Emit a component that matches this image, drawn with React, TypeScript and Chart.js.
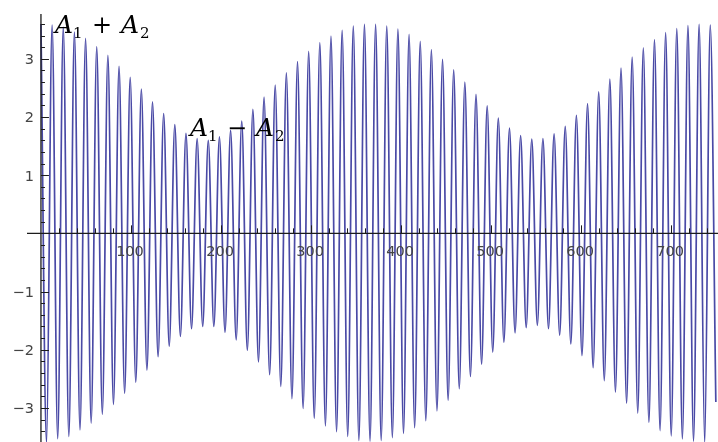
import React, { useEffect, useRef } from "react";
import { Chart, registerables } from "chart.js";

Chart.register(...registerables);

// ---- data ----
// carrier period (x units) between successive positive peaks
const CARRIER_PERIOD = 12.39;
// positive peaks, at x = i * period
const PEAKS = [
  3.6, 3.58, 3.54, 3.46, 3.35, 3.21, 3.06, 2.87, 2.68, 2.48,
  2.26, 2.06, 1.87, 1.72, 1.63, 1.6, 1.66, 1.77, 1.93, 2.13,
  2.34, 2.55, 2.76, 2.95, 3.13, 3.28, 3.39, 3.49, 3.56, 3.59,
  3.59, 3.56, 3.51, 3.42, 3.3, 3.16, 2.99, 2.81, 2.6, 2.39,
  2.19, 1.98, 1.81, 1.68, 1.62, 1.63, 1.71, 1.84, 2.03, 2.23,
  2.43, 2.65, 2.84, 3.03, 3.19, 3.33, 3.45, 3.52, 3.57, 3.59,
  3.58,
];
// negative peaks, at x = (j + 0.5) * period
const TROUGHS = [
  -3.59, -3.53, -3.49, -3.38, -3.26, -3.11, -2.94, -2.75, -2.56, -2.35,
  -2.12, -1.94, -1.77, -1.64, -1.6, -1.6, -1.7, -1.83, -2.01, -2.21,
  -2.43, -2.63, -2.84, -3.01, -3.18, -3.31, -3.41, -3.49, -3.56, -3.57,
  -3.56, -3.51, -3.44, -3.34, -3.22, -3.05, -2.87, -2.67, -2.46, -2.25,
  -2.04, -1.87, -1.71, -1.62, -1.58, -1.64, -1.75, -1.9, -2.1, -2.31,
  -2.53, -2.73, -2.92, -3.09, -3.25, -3.39, -3.48, -3.53, -3.57, -3.59,
  -2.9,
];
const X_TICK_LABELS = [100, 200, 300, 400, 500, 600, 700];
const Y_TICK_LABELS = [-3, -2, -1, 1, 2, 3];
const X_MINOR_STEP = 20;
const Y_MINOR_STEP = 0.2;
const X_RANGE = [-15.5, 752];
const Y_RANGE = [-3.586, 3.77];
// annotation labels: [operator, anchor x, anchor y] in data units
const ENVELOPE_LABELS: [string, number, number][] = [
  ["+", 15.6, 3.44],
  ["\u2212", 165.6, 1.67],
];

const LINE_COLOR = "rgb(74,74,166)";
const AXIS_COLOR = "#1c1c1c";
const TICK_FONT = '14.5px "DejaVu Sans"';
const TICK_COLOR = "#444";

function buildPoints() {
  const pts: { x: number; y: number }[] = [];
  for (let i = 0; i < PEAKS.length; i++) {
    pts.push({ x: i * CARRIER_PERIOD, y: PEAKS[i] });
    if (i < TROUGHS.length) pts.push({ x: (i + 0.5) * CARRIER_PERIOD, y: TROUGHS[i] });
  }
  return pts;
}

const fmt = (v: number) => (v < 0 ? "\u2212" + Math.abs(v) : String(v));

const mmaAxes = {
  id: "mmaAxes",
  afterDatasetsDraw(chart: any) {
    const { ctx } = chart;
    const xs = chart.scales.x;
    const ys = chart.scales.y;
    const x0 = xs.getPixelForValue(0);
    const y0 = ys.getPixelForValue(0);
    ctx.save();
    ctx.strokeStyle = AXIS_COLOR;
    ctx.lineWidth = 1.3;
    ctx.beginPath();
    ctx.moveTo(xs.left, y0);
    ctx.lineTo(xs.right, y0);
    ctx.moveTo(x0, ys.top);
    ctx.lineTo(x0, ys.bottom);
    ctx.stroke();

    // ticks
    ctx.lineWidth = 1;
    ctx.beginPath();
    for (let k = 1; k * X_MINOR_STEP <= xs.max; k++) {
      const v = k * X_MINOR_STEP;
      const px = Math.round(xs.getPixelForValue(v)) + 0.5;
      const len = v % 100 === 0 ? 8 : 5;
      ctx.moveTo(px, y0);
      ctx.lineTo(px, y0 - len);
    }
    for (let k = Math.ceil(ys.min / Y_MINOR_STEP); k * Y_MINOR_STEP <= ys.max; k++) {
      if (k === 0) continue;
      const v = k * Y_MINOR_STEP;
      const py = Math.round(ys.getPixelForValue(v)) + 0.5;
      const len = k % 5 === 0 ? 8 : 4;
      ctx.moveTo(x0, py);
      ctx.lineTo(x0 + len, py);
    }
    ctx.stroke();

    // tick labels
    ctx.fillStyle = TICK_COLOR;
    ctx.font = TICK_FONT;
    ctx.textBaseline = "alphabetic";
    ctx.textAlign = "center";
    X_TICK_LABELS.forEach((v) => {
      ctx.fillText(fmt(v), xs.getPixelForValue(v) - 1, y0 + 22.5);
    });
    ctx.textAlign = "right";
    Y_TICK_LABELS.forEach((v) => {
      ctx.fillText(fmt(v), x0 - 7, ys.getPixelForValue(v) + 5.5);
    });

    // envelope annotations  A1 ± A2
    ctx.fillStyle = "#000";
    ctx.textAlign = "left";
    ENVELOPE_LABELS.forEach(([op, ax, ay]) => {
      const px = xs.getPixelForValue(ax);
      const py = ys.getPixelForValue(ay);
      ctx.font = 'italic 25px "DejaVu Serif"';
      ctx.fillText("A", px, py);
      ctx.fillText("A", px + 66, py);
      ctx.font = '15px "DejaVu Serif"';
      ctx.fillText("1", px + 18, py + 5);
      ctx.fillText("2", px + 85, py + 5);
      ctx.font = '24px "DejaVu Serif"';
      ctx.fillText(op, px + 37, py);
    });
    ctx.restore();
  },
};

export default function App() {
  const ref = useRef<HTMLCanvasElement | null>(null);
  useEffect(() => {
    if (!ref.current) return;
    const chart = new Chart(ref.current, {
      type: "line",
      data: {
        datasets: [
          {
            data: buildPoints(),
            borderColor: LINE_COLOR,
            borderWidth: 1.7,
            pointRadius: 0,
            cubicInterpolationMode: "monotone",
            fill: false,
          },
        ],
      },
      options: {
        animation: false,
        responsive: false,
        devicePixelRatio: 1,
        parsing: true,
        layout: { padding: { left: 27, top: 14, right: 0, bottom: 0 } },
        plugins: { legend: { display: false }, tooltip: { enabled: false } },
        scales: {
          x: { type: "linear", min: X_RANGE[0], max: X_RANGE[1], display: false },
          y: { type: "linear", min: Y_RANGE[0], max: Y_RANGE[1], display: false },
        },
      },
      plugins: [mmaAxes],
    });
    return () => chart.destroy();
  }, []);
  return (
    <div style={{ position: "fixed", left: 0, top: 0, width: 718, height: 442, background: "#fff" }}>
      <canvas ref={ref} width={718} height={442} style={{ display: "block" }} />
    </div>
  );
}
